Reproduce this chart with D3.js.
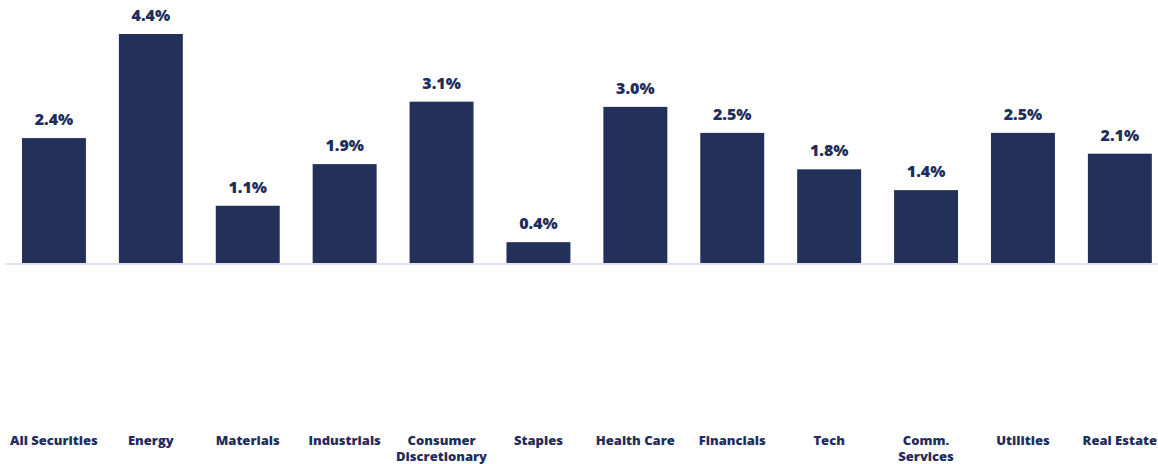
<!DOCTYPE html>
<html>
<head>
<meta charset="utf-8">
<script src="https://cdn.jsdelivr.net/npm/d3@7"></script>
<style>
  html, body { margin: 0; padding: 0; background: #ffffff; }
  svg { display: block; }
  .val { font-family: "Open Sans", sans-serif; font-weight: 800; font-size: 16px; fill: #1f2d5c; }
  .cat { font-family: "Open Sans", sans-serif; font-weight: 800; font-size: 13px; fill: #1f2d5c; }
</style>
</head>
<body>
<svg id="chart" width="1158" height="464"></svg>
<script>
// Sector yields (%)
const categories = [
  ["All Securities"], ["Energy"], ["Materials"], ["Industrials"],
  ["Consumer", "Discretionary"], ["Staples"], ["Health Care"], ["Financials"],
  ["Tech"], ["Comm.", "Services"], ["Utilities"], ["Real Estate"]
];
const values = [2.4, 4.4, 1.1, 1.9, 3.1, 0.4, 3.0, 2.5, 1.8, 1.4, 2.5, 2.1];
const valueLabels = ["2.4%", "4.4%", "1.1%", "1.9%", "3.1%", "0.4%", "3.0%", "2.5%", "1.8%", "1.4%", "2.5%", "2.1%"];

const svg = d3.select("#chart");
const keys = categories.map(c => c.join(" "));

const x = d3.scaleBand()
  .domain(keys)
  .range([5.5, 1168.3])
  .paddingInner(0.34)
  .paddingOuter(0.17);

const y = d3.scaleLinear()
  .domain([0, 4.4])
  .range([263, 34]);

// baseline
svg.append("line")
  .attr("x1", 5).attr("x2", 1158)
  .attr("y1", y(0) + 1).attr("y2", y(0) + 1)
  .attr("stroke", "#dfe3f1")
  .attr("stroke-width", 2);

// bars
svg.append("g").selectAll("rect")
  .data(values)
  .join("rect")
  .attr("x", (d, i) => x(keys[i]))
  .attr("width", x.bandwidth())
  .attr("y", d => y(d))
  .attr("height", d => y(0) - y(d))
  .attr("fill", "#22305a");

// value labels
svg.append("g").selectAll("text")
  .data(values)
  .join("text")
  .attr("class", "val")
  .attr("x", (d, i) => x(keys[i]) + x.bandwidth() / 2)
  .attr("y", d => y(d) - 13)
  .attr("text-anchor", "middle")
  .text((d, i) => valueLabels[i]);

// category axis labels
const cat = svg.append("g").selectAll("text")
  .data(categories)
  .join("text")
  .attr("class", "cat")
  .attr("text-anchor", "middle")
  .attr("x", (d, i) => x(keys[i]) + x.bandwidth() / 2)
  .attr("y", 445);

cat.selectAll("tspan")
  .data(d => d)
  .join("tspan")
  .attr("x", function () { return this.parentNode.getAttribute("x"); })
  .attr("dy", (d, j) => j === 0 ? 0 : 16)
  .text(d => d);
</script>
</body>
</html>
